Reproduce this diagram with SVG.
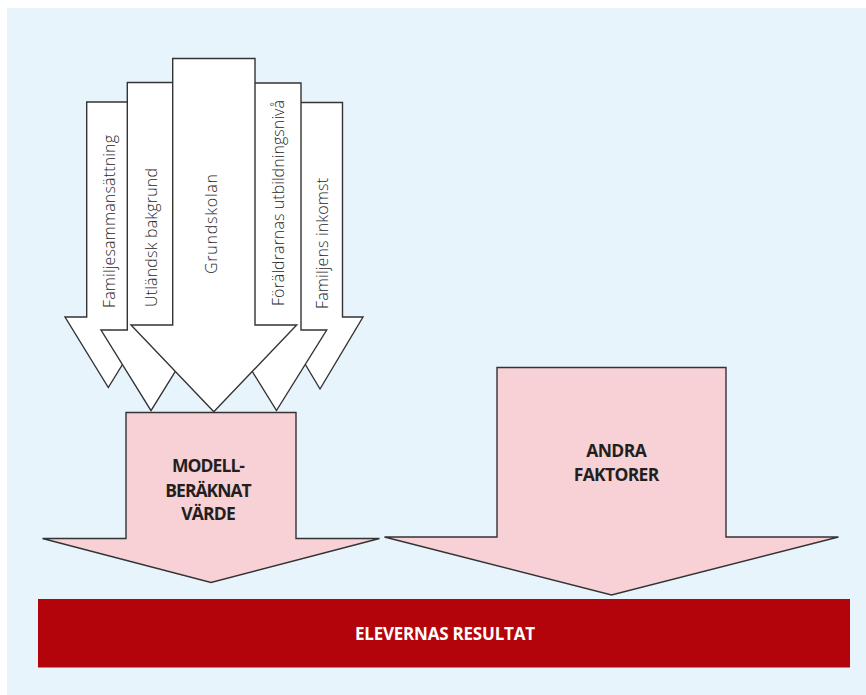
<svg xmlns="http://www.w3.org/2000/svg" width="866" height="695" viewBox="0 0 866 695">
<style>
.bg{fill:#e8f4fc}
.w{fill:#ffffff;stroke:#333333;stroke-width:1.4;stroke-linejoin:miter}
.p{fill:#f8d1d6;stroke:#333333;stroke-width:1.4;stroke-linejoin:miter}
.lt{font-family:"Open Sans","Noto Sans",sans-serif;font-weight:300;font-size:16px;fill:#262626}
.bd{font-family:"Open Sans","Noto Sans",sans-serif;font-weight:700;font-size:17.5px;fill:#231f20;text-anchor:middle}
.wt{font-family:"Open Sans","Noto Sans",sans-serif;font-weight:700;font-size:17px;fill:#ffffff;text-anchor:middle}
</style>
<rect x="0" y="0" width="866" height="695" fill="#ffffff"/>
<rect class="bg" x="7" y="8" width="859" height="687"/>

<g id="modell">
<polygon class="p" points="126,412.5 296,412.5 296,538.5 379.5,538.5 211,582.5 42.5,538.5 126,538.5"/>
<text class="bd" x="208.5" y="472" textLength="73">MODELL-</text>
<text class="bd" x="208.5" y="496.5" textLength="86.5">BERÄKNAT</text>
<text class="bd" x="208.5" y="520" textLength="54.5">VÄRDE</text>
</g>

<g id="andra">
<polygon class="p" points="497,367.5 726,367.5 726,537 838.5,537 611.5,595 384.5,537 497,537"/>
<text class="bd" x="616.5" y="456.5" textLength="60.5">ANDRA</text>
<text class="bd" x="616.5" y="481" textLength="85.5">FAKTORER</text>
</g>

<g id="familjesammansattning">
<polygon class="w" points="86.7,102 130,102 130,317 151.7,317 108.3,387.5 65,317 86.7,317"/>
<text class="lt" transform="translate(115,308) rotate(-90)" textLength="173">Familjesammansättning</text>
</g>

<g id="familjens-inkomst">
<polygon class="w" points="298,102.5 342.5,102.5 342.5,317 363,317 320,389 277,317 298,317"/>
<text class="lt" transform="translate(327.5,309) rotate(-90)" textLength="131">Familjens inkomst</text>
</g>

<g id="utlandsk-bakgrund">
<polygon class="w" points="127.3,82.5 174.7,82.5 174.7,330 201,330 151,410.7 101,330 127.3,330"/>
<text class="lt" transform="translate(157,307) rotate(-90)" textLength="139">Utländsk bakgrund</text>
</g>

<g id="foraldrarnas-utbildningsniva">
<polygon class="w" points="253,83 301,83 301,330 326.7,330 276.5,410.5 226.5,330 253,330"/>
<text class="lt" transform="translate(284,306) rotate(-90)" textLength="206">Föräldrarnas utbildningsnivå</text>
</g>

<g id="grundskolan">
<polygon class="w" points="172.7,58.5 255,58.5 255,325 296.7,325 213.8,411.7 131,325 172.7,325"/>
<text class="lt" transform="translate(217,274) rotate(-90)" textLength="100">Grundskolan</text>
</g>

<g id="resultat">
<rect x="38" y="599" width="812" height="68.5" fill="#b4040b"/>
<text class="wt" x="445" y="640" textLength="180">ELEVERNAS RESULTAT</text>
</g>
<g id="connectors"></g>
</svg>
